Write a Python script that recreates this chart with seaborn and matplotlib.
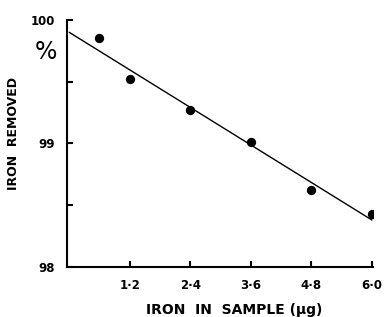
import numpy as np
import pandas as pd
import matplotlib
matplotlib.use("Agg")
import matplotlib.pyplot as plt
import seaborn as sns

# measured points
iron_ug = [0.6, 1.2, 2.4, 3.6, 4.8, 6.0]
removed_pct = [99.85, 99.52, 99.27, 99.01, 98.62, 98.43]

# fitted line end points
fit_x = [0.0, 6.0]
fit_y = [99.90, 98.38]

xticks = [1.2, 2.4, 3.6, 4.8, 6.0]
xtick_labels = ["1·2", "2·4", "3·6", "4·8", "6·0"]
yticks = [98, 99, 100]
yticks_minor = [98.5, 99.5]

sns.set_style("ticks")
plt.rcParams['font.family'] = ['DejaVu Sans']
plt.rcParams['font.weight'] = 'bold'
plt.rcParams['text.color'] = 'black'
plt.rcParams['axes.labelcolor'] = 'black'
plt.rcParams['xtick.color'] = 'black'
plt.rcParams['ytick.color'] = 'black'

fig = plt.figure(figsize=(3.84, 3.17), dpi=100)
ax = fig.add_axes([0.175, 0.158, 0.796, 0.779])

pts = pd.DataFrame({'x': iron_ug, 'y': removed_pct})
fit = pd.DataFrame({'x': fit_x, 'y': fit_y})

sns.lineplot(data=fit, x='x', y='y', ax=ax, color='black', linewidth=1.0)
sns.scatterplot(data=pts, x='x', y='y', ax=ax, color='black', s=45,
                edgecolor='black', linewidth=0, zorder=3)

ax.set_xlim(-0.04, 6.02)
ax.set_ylim(98, 100)
ax.set_xticks(xticks)
ax.set_xticklabels(xtick_labels, fontsize=8.5, fontweight='bold')
ax.set_yticks(yticks)
ax.set_yticklabels([str(v) for v in yticks], fontsize=8.5, fontweight='bold')
ax.set_yticks(yticks_minor, minor=True)

ax.tick_params(axis='both', which='both', direction='in', length=4,
               width=1.5, color='black')
ax.tick_params(axis='x', pad=9)
ax.tick_params(axis='y', pad=9)

sns.despine(ax=ax)
for side in ['left', 'bottom']:
    ax.spines[side].set_linewidth(1.5)
    ax.spines[side].set_color('black')

ax.set_xlabel('IRON  IN  SAMPLE (µg)', fontsize=10, fontweight='bold')
ax.set_ylabel('IRON  REMOVED', fontsize=9, fontweight='bold')
ax.xaxis.set_label_coords(0.545, -0.145)
ax.yaxis.set_label_coords(-0.155, 0.54)
fig.text(0.12, 0.835, '%', fontsize=17, fontweight='normal', ha='center', va='center')

fig.savefig('out.png', dpi=100)
